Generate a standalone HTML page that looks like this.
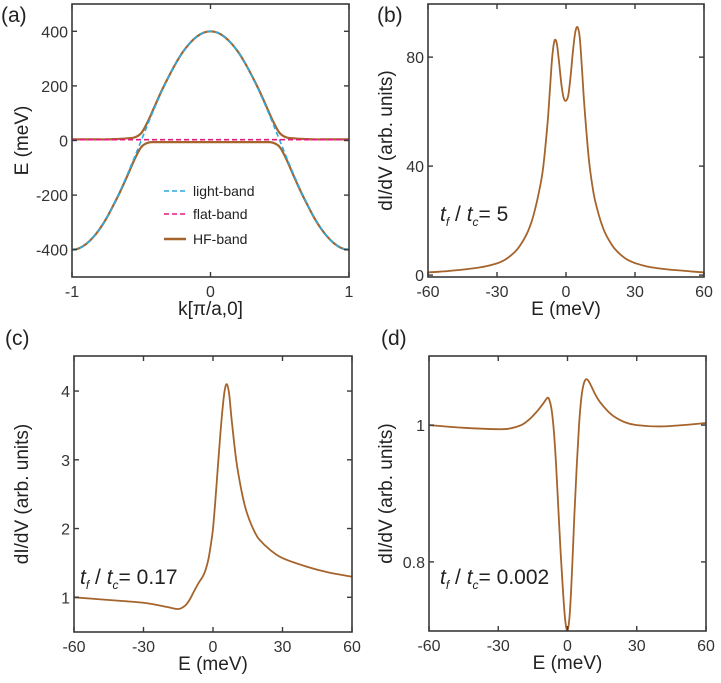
<!DOCTYPE html>
<html><head><meta charset="utf-8"><style>
html,body{margin:0;padding:0;background:#fff;}
svg{display:block;font-family:"Liberation Sans",sans-serif;}
</style></head><body>
<svg id="fig" width="721" height="683" viewBox="0 0 721 683" xmlns="http://www.w3.org/2000/svg"></svg>
<script>
// ---- panel (a) data ----
const kVals = [-1,-0.95,-0.9,-0.85,-0.8,-0.75,-0.7,-0.65,-0.6,-0.55,-0.5,-0.45,-0.4,-0.35,-0.3,-0.25,-0.2,-0.15,-0.1,-0.05,0,0.05,0.1,0.15,0.2,0.25,0.3,0.35,0.4,0.45,0.5,0.55,0.6,0.65,0.7,0.75,0.8,0.85,0.9,0.95,1];
const lightBand = [-400,-395,-380,-356,-324,-283,-235,-182,-124,-63,0,63,124,182,235,283,324,356,380,395,400,395,380,356,324,283,235,182,124,63,0,-63,-124,-182,-235,-283,-324,-356,-380,-395,-400];
const flatBand = [3,3,3,3,3,3,3,3,3,3,3,3,3,3,3,3,3,3,3,3,3,3,3,3,3,3,3,3,3,3,3,3,3,3,3,3,3,3,3,3,3];
const hfUpper = [4,4,4,4,4,4,5,6,8,11,27,72,129,185,236,283,324,356,380,395,400,395,380,356,324,283,236,185,129,72,27,11,8,6,5,4,4,4,4,4,4];
const hfLower = [-400,-395,-380,-356,-324,-284,-236,-185,-129,-71,-24,-8,-6,-6,-6,-6,-6,-6,-6,-6,-6,-6,-6,-6,-6,-6,-6,-6,-6,-8,-24,-71,-129,-185,-236,-284,-324,-356,-380,-395,-400];
const aYTicks = [400,200,0,-200,-400];
const aXTicks = [-1,0,1];
// ---- panel (b) ----
const bE = [-60,-55,-50,-45,-40,-35,-30,-27,-25,-22,-20,-17,-15,-13.5,-12,-10,-8,-7,-6,-5,-4,-3,-2,-1,0,1,2,3,4,5,6,7,8,10,12,13.5,15,17,20,22,25,27,30,35,40,45,50,55,60];
const bG = [1,1.25,1.6,2.0,2.5,3.2,4.3,5.4,6.5,8.7,10.8,15.2,19.5,24,29.5,39,56,68,80,86,85,78,70,65,64,66,73,82,89,91,87,75,62,42,30,24.5,20,15.5,11,8.9,6.6,5.5,4.4,3.2,2.5,2.0,1.7,1.3,1];
const bYTicks = [0,40,80];
// ---- panel (c) ----
const cE = [-60,-45,-30,-20,-15,-12,-10,-8,-6,-5,-4,-3,-2,-1,0,1,2,3,4,5,6,7,8,10,12,14,16,18,20,25,30,40,50,60];
const cG = [1.0,0.96,0.92,0.86,0.83,0.88,0.97,1.1,1.22,1.27,1.33,1.42,1.55,1.75,2.0,2.4,2.85,3.3,3.7,4.0,4.1,3.95,3.6,3.0,2.6,2.3,2.1,1.95,1.84,1.68,1.57,1.45,1.36,1.3];
const cYTicks = [1,2,3,4];
// ---- panel (d) ----
const dE = [-60,-45,-30,-25,-20,-17,-14,-12,-10,-9,-8.5,-8,-7,-6,-5,-4,-3,-2,-1,0,1,2,3,4,5,6,7,8,9,10,11,12,14,17,20,25,30,40,50,60];
const dG = [1.0,0.996,0.994,0.995,1.0,1.007,1.017,1.025,1.034,1.039,1.04,1.038,1.025,0.995,0.945,0.88,0.815,0.76,0.715,0.70,0.725,0.79,0.87,0.94,1.0,1.04,1.06,1.067,1.065,1.059,1.052,1.045,1.034,1.022,1.013,1.004,1.0,0.998,1.0,1.003];
const dYTicks = [0.8,1];
const eXTicks = [-60,-30,0,30,60];

const NS="http://www.w3.org/2000/svg";
const svg=document.getElementById('fig');
function mk(tag,attrs,parent){const e=document.createElementNS(NS,tag);for(const k in attrs)e.setAttribute(k,attrs[k]);(parent||svg).appendChild(e);return e;}
function smooth(pts){
  let d='M'+pts[0][0].toFixed(2)+','+pts[0][1].toFixed(2);
  for(let i=0;i<pts.length-1;i++){
    const p0=pts[Math.max(i-1,0)],p1=pts[i],p2=pts[i+1],p3=pts[Math.min(i+2,pts.length-1)];
    const c1=[p1[0]+(p2[0]-p0[0])/6,p1[1]+(p2[1]-p0[1])/6];
    const c2=[p2[0]-(p3[0]-p1[0])/6,p2[1]-(p3[1]-p1[1])/6];
    d+='C'+c1[0].toFixed(2)+','+c1[1].toFixed(2)+' '+c2[0].toFixed(2)+','+c2[1].toFixed(2)+' '+p2[0].toFixed(2)+','+p2[1].toFixed(2);
  }
  return d;
}
function panel(o){
  const g=mk('g',{});
  
  
  const sx=v=>o.x0+(v-o.xmin)/(o.xmax-o.xmin)*(o.x1-o.x0);
  const sy=v=>o.y1-(v-o.ymin)/(o.ymax-o.ymin)*(o.y1-o.y0);
  const cp=mk('clipPath',{id:'cp-'+o.name},g);
  mk('rect',{x:o.x0,y:o.y0,width:o.x1-o.x0,height:o.y1-o.y0},cp);
  o.series.forEach(s=>{
    const pts=s.x.map((v,i)=>[sx(v),sy(s.y[i])]);
    const p=mk('path',{d:smooth(pts),fill:'none',stroke:s.color,'stroke-width':s.w||1.8,'clip-path':'url(#cp-'+o.name+')'},g);
    if(s.dash)p.setAttribute('stroke-dasharray',s.dash);
    
    
  });
  const fr=mk('rect',{x:o.x0,y:o.y0,width:o.x1-o.x0,height:o.y1-o.y0,fill:'none',stroke:'#3a3a3a','stroke-width':1.6},g);
  
  
  o.xt.forEach(v=>{
    const x=sx(v);
    mk('line',{x1:x,x2:x,y1:o.y1,y2:o.y1-5,stroke:'#3a3a3a','stroke-width':1.4},g);
    mk('line',{x1:x,x2:x,y1:o.y0,y2:o.y0+5,stroke:'#3a3a3a','stroke-width':1.4},g);
    const t=mk('text',{x:x,y:o.y1+20,'text-anchor':'middle','font-size':16,fill:'#333'},g);
    t.textContent=String(v);
    
    
  });
  o.yt.forEach(v=>{
    const y=sy(v);
    mk('line',{x1:o.x0,x2:o.x0+5,y1:y,y2:y,stroke:'#3a3a3a','stroke-width':1.4},g);
    mk('line',{x1:o.x1,x2:o.x1-5,y1:y,y2:y,stroke:'#3a3a3a','stroke-width':1.4},g);
    const t=mk('text',{x:o.x0-4,y:y+6,'text-anchor':'end','font-size':16,fill:'#333'},g);
    t.textContent=String(v);
    
    
  });
  const xt=mk('text',{x:(o.x0+o.x1)/2,y:o.y1+38,'text-anchor':'middle','font-size':19,fill:'#222'},g);
  xt.textContent=o.xlabel;
  
  
  const yt=mk('text',{x:0,y:0,'text-anchor':'middle','font-size':19,fill:'#222',transform:'translate('+o.ylx+','+(o.y0+o.y1)/2+') rotate(-90)'},g);
  yt.textContent=o.ylabel;
  
  
  const pl=mk('text',{x:o.plx,y:o.ply,'font-size':21,fill:'#222'},g);
  pl.textContent=o.plabel;
  
  
  if(o.ann){
    const a=mk('text',{x:o.ann[0],y:o.ann[1],'font-size':21,fill:'#222'},g);
    a.innerHTML='<tspan font-style="italic">t</tspan><tspan font-size="12" dy="5" font-style="italic">f</tspan><tspan dy="-5"> / </tspan><tspan font-style="italic">t</tspan><tspan font-size="12" dy="5" font-style="italic">c</tspan><tspan dy="-5">= '+o.ann[2]+'</tspan>';
    
    
  }
  return g;
}
const HF='#a5642c';
panel({name:'panel-a',x0:72,x1:349,y0:4,y1:277,xmin:-1,xmax:1,ymin:-500,ymax:500,xt:aXTicks,yt:aYTicks,
  xlabel:'k[\u03c0/a,0]',ylabel:'E (meV)',ylx:28,plabel:'(a)',plx:1,ply:22,
  series:[
    {name:'hf-band-upper',x:kVals,y:hfUpper,color:HF,w:2.2},
    {name:'hf-band-lower',x:kVals,y:hfLower,color:HF,w:2.2},
    {name:'light-band',x:kVals,y:lightBand,color:'#29abe2',dash:'5,3',w:1.6},
    {name:'flat-band',x:kVals,y:flatBand,color:'#e8197d',dash:'5,3',w:1.6}
  ]});
panel({name:'panel-b',x0:428,x1:704,y0:4,y1:277,xmin:-60,xmax:60,ymin:-0.7,ymax:99.5,xt:eXTicks,yt:bYTicks,
  xlabel:'E (meV)',ylabel:'dI/dV (arb. units)',ylx:392,plabel:'(b)',plx:377,ply:22,ann:[440,221,'5'],
  series:[{name:'didv-curve',x:bE,y:bG,color:HF}]});
panel({name:'panel-c',x0:74,x1:352,y0:356,y1:632,xmin:-60,xmax:60,ymin:0.495,ymax:4.51,xt:eXTicks,yt:cYTicks,
  xlabel:'E (meV)',ylabel:'dI/dV (arb. units)',ylx:28,plabel:'(c)',plx:5,ply:345,ann:[80,584,'0.17'],
  series:[{name:'didv-curve',x:cE,y:cG,color:HF}]});
panel({name:'panel-d',x0:429,x1:706,y0:356,y1:631,xmin:-60,xmax:60,ymin:0.699,ymax:1.101,xt:eXTicks,yt:dYTicks,
  xlabel:'E (meV)',ylabel:'dI/dV (arb. units)',ylx:392,plabel:'(d)',plx:381,ply:345,ann:[440,584,'0.002'],
  series:[{name:'didv-curve',x:dE,y:dG,color:HF}]});
// legend in (a)
const leg=mk('g',{});


[['light-band','#29abe2','5,3',191],['flat-band','#e8197d','5,3',214],['HF-band',HF,null,239]].forEach(r=>{
  const e=mk('g',{},leg);
  
  
  const l=mk('line',{x1:164,x2:186,y1:r[3],y2:r[3],stroke:r[1],'stroke-width':r[2]?1.6:2.4},e);
  if(r[2])l.setAttribute('stroke-dasharray',r[2]);
  const t=mk('text',{x:193,y:r[3]+5,'font-size':14,fill:'#222'},e);
  t.textContent=r[0];
});
</script>
</body></html>
